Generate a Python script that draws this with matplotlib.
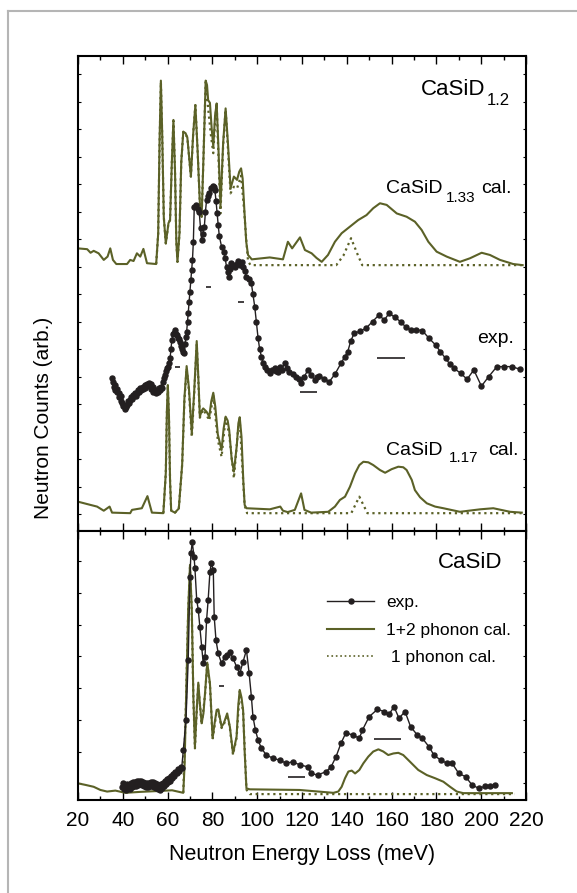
import numpy as np
import matplotlib.pyplot as plt
from matplotlib.lines import Line2D
from matplotlib.ticker import MultipleLocator

plt.rcParams['font.family'] = ['Liberation Sans', 'DejaVu Sans']

olive = '#5b6127'
dark = '#231f20'

# ---- top panel: CaSiD1.33 calculation (offset stack, arb. units) ----
cal133_E = [19.9, 24.1, 25.6, 27.0, 29.2, 31.5, 33.2, 34.4, 35.6, 37.1,
            41.9, 43.3, 44.8, 46.3, 47.8, 49.2, 50.8, 54.9, 55.8, 56.4,
            57.0, 57.6, 58.3, 59.2, 60.4, 61.1, 61.9, 62.6, 63.3, 63.9,
            64.4, 65.3, 66.1, 67.0, 68.0, 68.8, 69.7, 70.4, 71.4, 72.4,
            73.4, 74.4, 75.2, 76.1, 77.0, 77.6, 78.1, 78.9, 79.7, 80.4,
            81.2, 81.9, 82.7, 83.6, 84.8, 85.9, 87.0, 88.1, 89.6, 91.0,
            92.0, 92.8, 93.5, 94.3, 95.1, 95.9, 97.6, 105.6, 111.5, 113.7,
            115.6, 119.1, 121.3, 124.3, 126.5, 128.8, 131.6, 134.7, 137.7, 141.4,
            145.1, 148.8, 151.8, 154.8, 157.8, 162.3, 166.7, 170.4, 173.4, 176.4,
            180.1, 184.6, 190.5, 195.0, 200.2, 203.9, 208.4, 214.3, 218.5]
cal133_y = [9.66, 9.63, 9.50, 9.57, 9.48, 9.24, 9.36, 9.66, 9.24, 9.09,
            9.09, 9.24, 9.20, 9.48, 9.36, 9.64, 9.12, 9.09, 10.20, 13.50,
            15.76, 13.80, 10.80, 9.84, 10.58, 10.69, 12.80, 14.33, 12.50, 9.90,
            9.17, 10.20, 12.80, 13.90, 13.85, 13.70, 12.90, 12.27, 13.80, 14.87,
            13.20, 11.30, 10.81, 13.20, 15.76, 15.60, 15.05, 14.95, 14.00, 13.36,
            14.50, 14.93, 13.30, 11.17, 13.50, 14.75, 13.40, 11.84, 12.27, 12.15,
            12.45, 12.57, 12.20, 11.00, 9.90, 9.42, 9.26, 9.33, 9.26, 9.90,
            9.66, 10.06, 9.60, 9.48, 9.31, 9.17, 9.42, 9.90, 10.21, 10.45,
            10.69, 10.87, 11.12, 11.30, 11.24, 10.93, 10.81, 10.63, 10.33, 9.90,
            9.54, 9.36, 9.17, 9.30, 9.50, 9.42, 9.24, 9.09, 9.05]
cal133_1ph_E = [54.9, 55.8, 56.4, 57.0, 57.6, 58.3, 59.2, 60.4, 61.1, 61.9,
                62.6, 63.3, 63.9, 64.4, 65.3, 66.1, 67.0, 68.8, 70.4, 71.4,
                72.4, 73.4, 74.4, 75.2, 76.1, 77.0, 78.1, 79.3, 80.4, 81.2,
                81.9, 82.7, 83.6, 84.8, 85.9, 87.0, 88.1, 89.6, 91.0, 92.8,
                94.0, 95.2, 95.9, 97.0, 135.3, 138.5, 141.9, 144.5, 146.9, 218.5]
cal133_1ph_y = [9.09, 10.20, 13.40, 15.70, 13.70, 10.80, 9.84, 10.58, 10.69, 12.80,
                14.30, 12.50, 9.90, 9.17, 10.20, 12.80, 13.90, 13.70, 12.27, 13.80,
                14.87, 13.20, 11.30, 10.81, 13.20, 15.70, 14.75, 13.80, 13.12, 14.30,
                14.90, 13.00, 10.93, 13.40, 14.70, 13.20, 11.66, 11.90, 11.84, 12.30,
                11.20, 9.90, 9.20, 9.05, 9.05, 9.40, 10.03, 9.50, 9.05, 9.05]

# ---- top panel: CaSiD1.2 experiment ----
exp12_E = [35.2, 35.6, 35.9, 36.3, 36.7, 37.2, 37.6, 38.1, 38.5, 39.0,
           39.4, 39.8, 40.3, 40.7, 41.1, 41.5, 42.0, 42.4, 42.9, 43.3,
           43.8, 44.2, 44.7, 45.1, 45.6, 46.0, 46.5, 47.0, 47.4, 47.9,
           48.3, 48.8, 49.2, 49.7, 50.1, 50.6, 51.0, 51.5, 51.9, 52.4,
           52.8, 53.3, 53.7, 54.2, 54.6, 55.1, 55.5, 56.0, 56.4, 56.9,
           57.3, 57.8, 58.2, 58.7, 59.1, 59.6, 60.0, 60.5, 61.1, 61.5,
           61.9, 62.4, 62.8, 63.3, 63.8, 64.2, 64.7, 65.1, 65.6, 66.0,
           66.5, 66.9, 67.3, 67.8, 68.2, 68.5, 68.9, 69.2, 69.6, 70.0,
           70.4, 70.8, 71.1, 71.5, 71.9, 72.7, 73.4, 74.1, 74.7, 75.2,
           75.8, 76.4, 76.9, 77.4, 78.0, 78.6, 79.3, 80.1, 80.6, 81.1,
           81.6, 82.1, 82.6, 83.1, 84.1, 85.1, 85.7, 86.3, 86.9, 87.5,
           88.0, 88.5, 89.2, 90.0, 90.8, 91.5, 92.2, 93.0, 93.7, 94.4,
           95.2, 96.3, 97.4, 98.1, 98.9, 99.6, 100.4, 101.1, 101.9, 102.6,
           103.3, 104.4, 105.6, 106.7, 107.8, 108.5, 109.2, 110.0, 111.0, 112.2,
           113.3, 114.4, 115.9, 117.4, 118.5, 119.6, 121.1, 122.6, 124.1, 125.6,
           126.7, 127.8, 130.0, 132.2, 134.8, 137.4, 139.0, 140.4, 141.8, 143.3,
           145.9, 148.5, 151.5, 154.4, 156.7, 158.9, 161.5, 164.1, 166.3, 168.5,
           171.1, 173.7, 176.6, 179.6, 181.8, 184.1, 186.0, 187.8, 190.8, 193.7,
           196.7, 200.1, 203.3, 207.0, 210.3, 213.7, 217.4]
exp12_y = [4.93, 4.80, 4.63, 4.70, 4.52, 4.55, 4.42, 4.39, 4.25, 4.30,
           4.10, 4.05, 3.92, 3.98, 3.81, 3.90, 3.95, 4.10, 4.02, 4.15,
           4.25, 4.18, 4.32, 4.28, 4.40, 4.30, 4.39, 4.50, 4.42, 4.58,
           4.50, 4.62, 4.55, 4.70, 4.60, 4.72, 4.65, 4.78, 4.68, 4.73,
           4.55, 4.62, 4.45, 4.50, 4.39, 4.48, 4.42, 4.60, 4.50, 4.62,
           4.57, 4.80, 4.93, 5.05, 5.20, 5.30, 5.36, 5.50, 5.66, 6.00,
           6.33, 6.55, 6.60, 6.69, 6.55, 6.50, 6.40, 6.35, 6.27, 6.10,
           6.00, 5.90, 5.84, 6.20, 6.45, 6.63, 7.00, 7.30, 7.70, 8.08,
           8.50, 8.87, 9.24, 9.90, 11.17, 11.24, 11.10, 10.99, 10.40, 9.96,
           10.20, 10.45, 11.00, 11.42, 11.55, 11.66, 11.85, 11.93, 11.90, 11.78,
           11.40, 10.93, 10.50, 10.10, 9.72, 9.54, 9.30, 8.99, 8.80, 8.63,
           8.90, 9.12, 9.05, 8.99, 9.10, 9.20, 9.05, 9.15, 8.99, 8.85,
           8.63, 8.55, 8.39, 8.00, 7.54, 7.00, 6.39, 6.00, 5.72, 5.50,
           5.36, 5.25, 5.11, 5.25, 5.30, 5.20, 5.17, 5.35, 5.25, 5.48,
           5.30, 5.17, 5.10, 4.99, 4.90, 4.77, 5.00, 5.24, 5.05, 4.87,
           5.00, 5.02, 4.92, 4.81, 5.10, 5.48, 5.70, 5.90, 6.30, 6.57,
           6.65, 6.75, 7.00, 7.24, 7.05, 7.30, 7.15, 6.99, 6.80, 6.69,
           6.70, 6.67, 6.40, 6.15, 5.90, 5.66, 5.45, 5.30, 5.12, 4.90,
           5.24, 4.65, 4.99, 5.36, 5.36, 5.36, 5.26]

# ---- top panel: CaSiD1.17 calculation ----
cal117_E = [19.9, 25.6, 28.5, 31.5, 34.1, 35.2, 43.3, 44.1, 48.5, 51.0,
            53.0, 58.1, 59.2, 59.7, 60.1, 60.6, 61.1, 61.6, 63.3, 65.0,
            66.5, 67.5, 68.5, 69.5, 70.8, 71.9, 73.0, 73.7, 74.4, 75.2,
            75.9, 77.4, 78.6, 79.5, 80.4, 81.3, 82.4, 84.1, 85.0, 85.9,
            86.8, 87.5, 88.6, 89.6, 90.9, 91.6, 92.2, 93.0, 93.8, 94.4,
            95.2, 105.6, 110.3, 111.5, 113.6, 116.8, 119.6, 121.1, 124.1, 131.7,
            134.7, 136.9, 139.2, 141.4, 143.7, 145.6, 147.4, 149.6, 151.8, 154.8,
            157.1, 160.0, 163.0, 165.2, 166.7, 169.0, 170.4, 172.7, 175.7, 179.4,
            183.1, 190.5, 199.5, 205.4, 212.9, 218.1]
cal117_y = [0.45, 0.33, 0.27, 0.12, 0.27, 0.05, 0.03, 0.15, 0.21, 0.65,
            0.05, 0.03, 1.50, 3.80, 4.69, 3.60, 1.20, 0.12, 0.05, 0.20,
            1.80, 4.20, 5.38, 4.60, 2.93, 4.50, 6.29, 5.00, 3.54, 3.75,
            3.84, 3.72, 3.54, 4.10, 4.41, 3.90, 2.90, 2.33, 3.10, 3.54,
            3.40, 3.05, 2.00, 1.54, 2.50, 3.30, 3.52, 2.80, 1.20, 0.33,
            0.21, 0.17, 0.27, 0.12, 0.07, 0.15, 0.75, 0.15, 0.05, 0.08,
            0.27, 0.51, 0.63, 0.99, 1.48, 1.78, 1.90, 1.88, 1.78, 1.60,
            1.50, 1.63, 1.72, 1.70, 1.60, 1.24, 0.87, 0.61, 0.39, 0.27,
            0.21, 0.08, 0.17, 0.21, 0.08, 0.05]
cal117_1ph_E = [58.1, 59.2, 59.7, 60.1, 60.6, 61.1, 61.6, 63.3, 65.0, 66.5,
                67.5, 68.5, 69.5, 70.8, 71.9, 73.0, 73.7, 74.4, 75.9, 77.4,
                78.6, 80.4, 82.4, 84.1, 85.9, 87.5, 89.6, 91.6, 92.2, 93.8,
                94.4, 95.5, 142.0, 145.6, 149.2, 218.0]
cal117_1ph_y = [0.03, 1.50, 3.70, 4.60, 3.50, 1.20, 0.10, 0.05, 0.20, 1.80,
                4.10, 5.30, 4.50, 2.80, 4.40, 6.20, 4.90, 3.50, 3.80, 3.60,
                3.40, 4.30, 2.70, 2.08, 3.50, 2.90, 1.30, 3.20, 3.40, 1.10,
                0.30, 0.03, 0.03, 0.63, 0.03, 0.03]

# instrument resolution bars, top panel
res_top_E = [64.3, 78.2, 92.6, 122.7, 159.7]
res_top_w = [2.2, 2.2, 2.7, 7.6, 12.5]
res_top_y = [5.36, 8.27, 7.72, 4.45, 5.66]

# ---- bottom panel: CaSiD ----
casid_exp_E = [39.6, 40.0, 40.4, 40.9, 41.3, 41.8, 42.2, 42.7, 43.1, 43.6,
               44.0, 44.5, 44.9, 45.4, 45.8, 46.3, 46.7, 47.2, 47.6, 48.1,
               48.5, 49.0, 49.4, 49.9, 50.3, 50.8, 51.2, 51.7, 52.1, 52.6,
               53.0, 53.5, 53.9, 54.4, 54.8, 55.3, 55.7, 56.2, 56.6, 57.1,
               57.5, 58.0, 58.4, 58.9, 59.3, 59.8, 60.2, 60.7, 61.1, 61.6,
               62.0, 62.5, 63.0, 63.5, 64.1, 64.6, 65.2, 65.8, 66.3, 67.0,
               68.2, 69.2, 70.0, 70.4, 71.0, 71.8, 72.2, 73.0, 73.7, 74.4,
               75.2, 75.9, 76.7, 77.4, 78.1, 78.9, 79.5, 80.4, 80.8, 81.6,
               82.6, 84.1, 85.6, 86.7, 87.8, 89.2, 90.8, 92.2, 93.7, 95.2,
               96.4, 97.4, 98.1, 99.2, 100.4, 101.9, 104.1, 107.0, 110.0, 113.0,
               115.9, 118.9, 122.6, 124.1, 127.0, 130.8, 133.0, 135.2, 137.4, 139.6,
               142.6, 145.6, 147.0, 150.0, 153.7, 156.7, 158.9, 161.1, 163.3, 166.0,
               168.5, 171.5, 173.7, 176.7, 178.9, 181.9, 184.8, 187.0, 190.0, 193.0,
               195.9, 198.9, 201.9, 204.1, 206.3]
casid_exp_y = [-0.11, 0.00, -0.17, -0.07, -0.20, -0.02, -0.14, -0.04, -0.18, 0.01,
               -0.12, 0.03, -0.10, 0.05, -0.07, 0.06, -0.04, 0.08, -0.02, 0.06,
               -0.06, 0.04, -0.09, 0.02, -0.11, 0.01, -0.13, 0.00, -0.09, 0.03,
               -0.07, 0.04, -0.11, 0.00, -0.15, -0.02, -0.18, -0.05, -0.21, -0.03,
               -0.14, 0.02, -0.08, 0.08, -0.03, 0.12, 0.04, 0.18, 0.08, 0.24,
               0.16, 0.30, 0.22, 0.36, 0.31, 0.45, 0.40, 0.52, 0.48, 1.05,
               1.99, 3.88, 6.51, 7.24, 7.59, 7.14, 6.77, 5.77, 5.46, 4.93,
               4.30, 3.78, 3.99, 5.14, 5.77, 6.66, 6.93, 6.72, 5.25, 4.51,
               4.09, 3.78, 3.99, 4.05, 4.14, 3.94, 3.67, 3.46, 3.83, 4.20,
               3.46, 2.73, 2.10, 1.68, 1.36, 1.10, 0.89, 0.79, 0.73, 0.63,
               0.68, 0.58, 0.52, 0.31, 0.26, 0.37, 0.52, 0.84, 1.26, 1.59,
               1.52, 1.42, 1.68, 2.10, 2.33, 2.26, 2.18, 2.41, 2.05, 2.26,
               1.78, 1.52, 1.42, 1.15, 0.89, 0.73, 0.63, 0.63, 0.31, 0.21,
               -0.05, -0.16, -0.09, -0.09, -0.05]
casid_cal_E = [19.9, 23.3, 27.0, 30.0, 33.0, 36.7, 41.1, 47.8, 56.7, 62.0,
               67.0, 67.6, 68.2, 69.2, 70.0, 70.8, 71.5, 72.2, 73.0, 73.7,
               74.4, 75.2, 76.0, 76.7, 77.7, 78.9, 80.1, 81.0, 81.9, 82.6,
               84.1, 85.1, 86.6, 87.8, 89.2, 90.8, 91.5, 92.2, 93.0, 93.7,
               94.4, 95.2, 96.7, 118.9, 134.0, 136.2, 137.7, 139.2, 140.7, 142.2,
               143.7, 145.6, 147.4, 149.6, 151.8, 154.1, 156.3, 158.5, 160.8, 163.0,
               165.2, 168.2, 171.9, 175.7, 179.4, 183.1, 186.1, 189.1, 192.0, 213.7]
casid_cal_y = [0.00, -0.05, -0.11, -0.21, -0.26, -0.23, -0.30, -0.27, -0.24, -0.22,
               -0.30, 0.60, 2.52, 5.46, 6.88, 5.46, 2.73, 1.15, 2.31, 3.17,
               2.52, 1.89, 2.20, 2.83, 3.80, 3.15, 1.42, 1.90, 2.31, 2.33,
               1.78, 1.89, 2.20, 1.78, 0.94, 1.47, 2.40, 2.94, 2.70, 2.31,
               1.00, -0.16, -0.19, -0.21, -0.30, -0.26, -0.11, 0.16, 0.37, 0.40,
               0.31, 0.42, 0.63, 0.84, 1.00, 1.07, 1.00, 0.89, 0.94, 0.96,
               0.89, 0.68, 0.42, 0.26, 0.16, 0.05, -0.11, -0.26, -0.31, -0.31]
casid_1ph_E = [67.0, 68.2, 69.2, 70.0, 70.8, 71.5, 72.2, 73.0, 73.7, 74.4,
               75.2, 76.7, 77.7, 78.9, 80.1, 81.9, 82.6, 84.1, 85.1, 86.6,
               87.8, 89.2, 90.8, 92.2, 93.7, 95.2, 96.7, 215.0]
casid_1ph_y = [-0.30, 2.52, 5.40, 6.80, 5.40, 2.70, 1.10, 2.28, 3.12, 2.48,
               1.85, 2.78, 3.75, 3.10, 1.38, 2.28, 2.30, 1.74, 1.85, 2.15,
               1.74, 0.90, 1.43, 2.90, 2.27, -0.20, -0.34, -0.34]

res_bot_E = [84.2, 117.6, 158.1]
res_bot_w = [2.2, 7.5, 11.9]
res_bot_y = [3.07, 0.21, 1.39]

W, H = 577, 893
fig = plt.figure(figsize=(W / 100, H / 100), dpi=100)
ax1 = fig.add_axes([78 / W, 1 - 531 / H, 448 / W, 475 / H])
ax2 = fig.add_axes([78 / W, 1 - 800 / H, 448 / W, 269 / H])

# light grey frame on left / top edge
fig.add_artist(Line2D([8 / W, 8 / W], [0, 1 - 11 / H], color='#b5b5b5', lw=1.5))
fig.add_artist(Line2D([8 / W, 1], [1 - 11 / H, 1 - 11 / H], color='#b5b5b5', lw=1.5))


def label(parts):
    # parts: (text, fontsize, left px, baseline px) -- subscripts as own pieces
    for s, size, x, y in parts:
        fig.text(x / W, 1 - y / H, s, fontsize=size, ha='left', va='baseline')


# top panel
ax1.plot(cal133_1ph_E, cal133_1ph_y, ':', color=olive, lw=1.6)
ax1.plot(cal133_E, cal133_y, '-', color=olive, lw=1.5)
ax1.plot(cal117_1ph_E, cal117_1ph_y, ':', color=olive, lw=1.6)
ax1.plot(cal117_E, cal117_y, '-', color=olive, lw=1.5)
ax1.plot(exp12_E, exp12_y, '-', color=dark, lw=1.0, marker='o', ms=3.6)
e, w = np.array(res_top_E), np.array(res_top_w)
ax1.hlines(res_top_y, e - w / 2, e + w / 2, color=dark, lw=1.2)
ax1.set_ylim(-0.618, 16.655)

label([('CaSiD', 16, 420.5, 95), ('1.2', 12, 487, 105)])
label([('CaSiD', 14, 386, 193), ('1.33', 11, 445.5, 201.5), ('cal.', 14, 481.5, 193)])
label([('exp.', 14, 477, 343)])
label([('CaSiD', 14, 386, 455), ('1.17', 11, 448.5, 462.5), ('cal.', 14, 488, 455)])

# bottom panel
ax2.plot(casid_1ph_E, casid_1ph_y, ':', color=olive, lw=1.6)
ax2.plot(casid_cal_E, casid_cal_y, '-', color=olive, lw=1.5)
ax2.plot(casid_exp_E, casid_exp_y, '-', color=dark, lw=1.0, marker='o', ms=3.6)
e, w = np.array(res_bot_E), np.array(res_bot_w)
ax2.hlines(res_bot_y, e - w / 2, e + w / 2, color=dark, lw=1.2)
ax2.set_ylim(-0.526, 7.946)
label([('CaSiD', 16, 438, 568)])

handles = [Line2D([], [], color=dark, lw=1.0, marker='o', ms=3.6),
           Line2D([], [], color=olive, lw=1.5),
           Line2D([], [], color=olive, lw=1.2, ls=':')]
ax2.legend(handles, ['exp.', '1+2 phonon cal.', ' 1 phonon cal.'],
           loc='upper left', bbox_to_anchor=(0.556, 0.762), frameon=False,
           fontsize=12.5, handlelength=2.7, handletextpad=0.7,
           labelspacing=0.72, borderpad=0, borderaxespad=0)

for ax in (ax1, ax2):
    ax.set_xlim(20, 220)
    ax.xaxis.set_major_locator(MultipleLocator(20))
    ax.xaxis.set_minor_locator(MultipleLocator(10))
    ax.yaxis.set_major_locator(MultipleLocator(1))
    ax.tick_params(axis='x', which='both', direction='in', top=True, bottom=True,
                   width=1, labelsize=15, pad=8)
    ax.tick_params(axis='x', which='major', length=6)
    ax.tick_params(axis='x', which='minor', length=3)
    ax.tick_params(axis='y', which='major', direction='in', left=True, right=True,
                   length=2.5, width=0.8, labelleft=False)
    for sp in ax.spines.values():
        sp.set_linewidth(1.5)

ax1.tick_params(axis='x', labelbottom=False)
ax2.set_xlabel('Neutron Energy Loss (meV)', fontsize=15.5, labelpad=10)
fig.text(44 / W, 1 - 418 / H, 'Neutron Counts (arb.)', rotation=90,
         ha='center', va='center', fontsize=15)

fig.savefig('out.png', dpi=100)
